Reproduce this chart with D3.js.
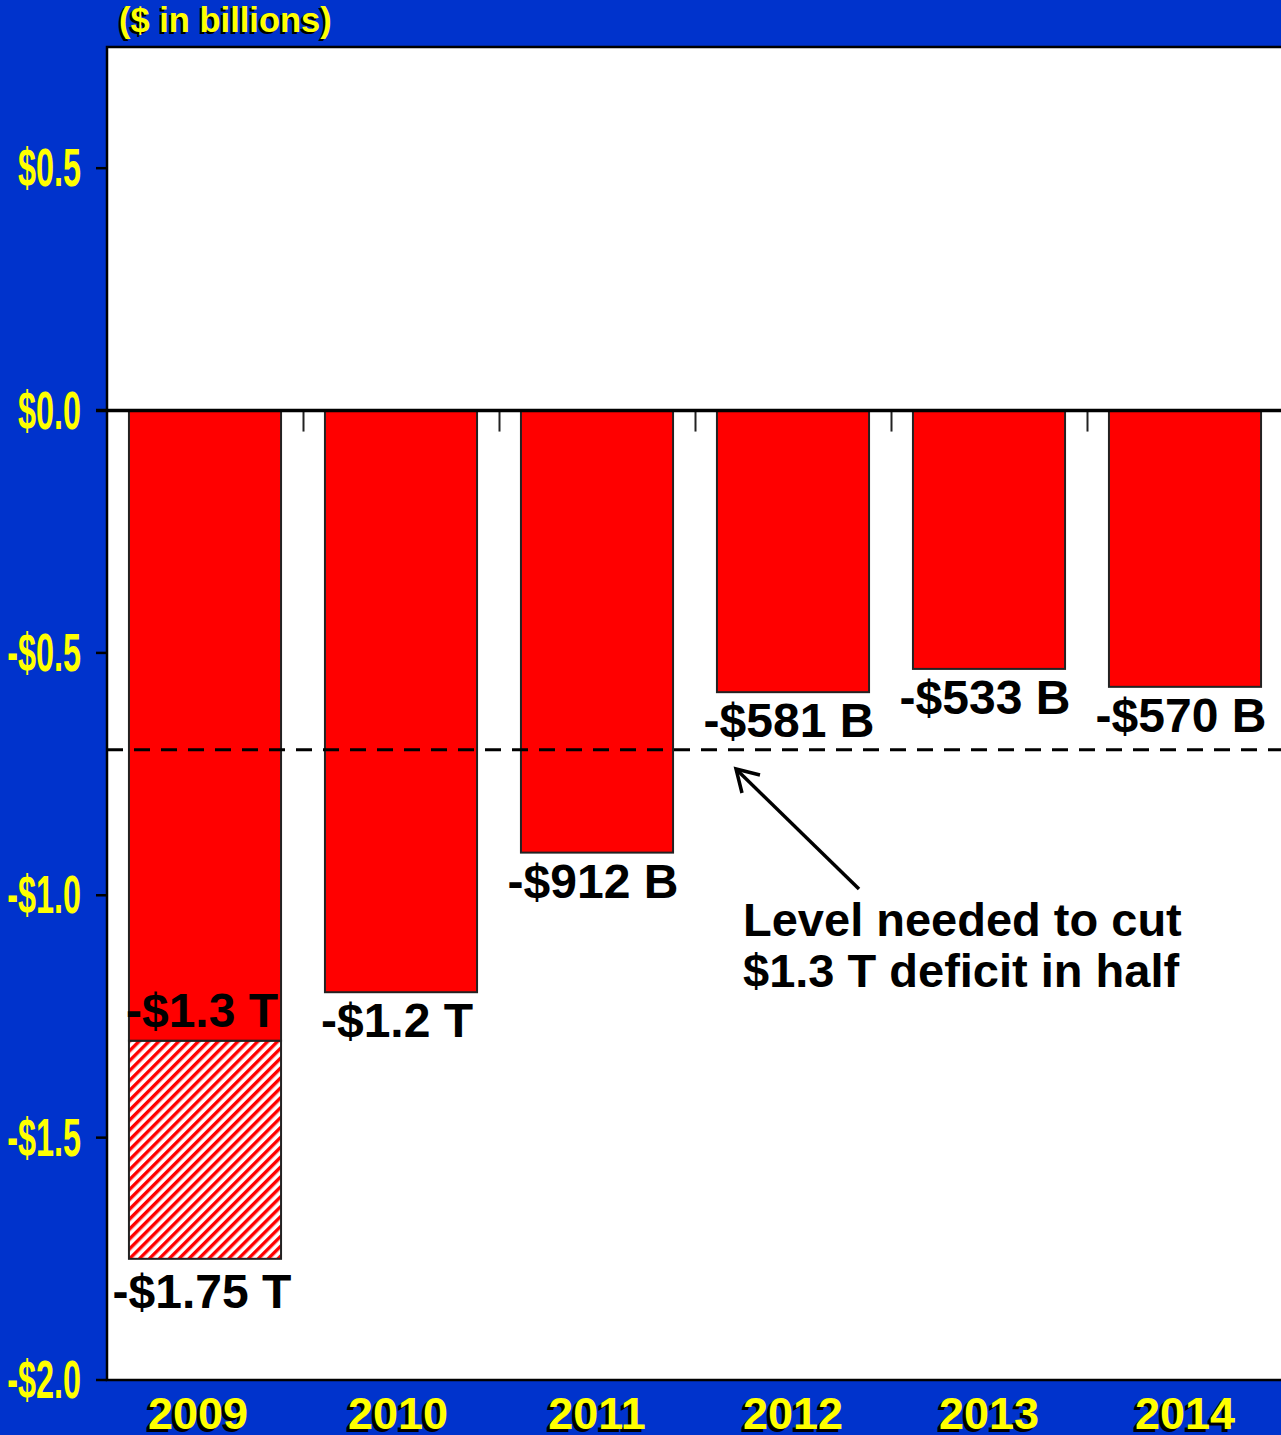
<!DOCTYPE html>
<html><head><meta charset="utf-8">
<script src="https://cdn.jsdelivr.net/npm/d3@7"></script>
<style>body{margin:0;background:#0033CC;overflow:hidden}svg{display:block}</style>
</head><body><svg id="c" width="1281" height="1435"></svg>
<script>
const years = ["2009","2010","2011","2012","2013","2014"];
const deficits = [-1.3, -1.2, -0.912, -0.581, -0.533, -0.570];
const deficitLabels = ["-$1.3 T","-$1.2 T","-$912 B","-$581 B","-$533 B","-$570 B"];
const projected2009 = -1.75;
const projected2009Label = "-$1.75 T";
const targetLevel = -0.7;
const yTicks = [0.5, 0.0, -0.5, -1.0, -1.5, -2.0];
const yTickLabels = ["$0.5","$0.0","-$0.5","-$1.0","-$1.5","-$2.0"];
const title = "($ in billions)";
const noteLines = ["Level needed to cut","$1.3 T deficit in half"];

const W = 1281, H = 1435;
const m = {l:107, t:47, r:0, b:55};
const svg = d3.select("#c");
svg.append("rect").attr("width",W).attr("height",H).attr("fill","#0033CC");

const defs = svg.append("defs");
const pat = defs.append("pattern").attr("id","hatch").attr("patternUnits","userSpaceOnUse")
  .attr("width",7).attr("height",10).attr("patternTransform","rotate(45)");
pat.append("rect").attr("width",7).attr("height",10).attr("fill","#fff");
pat.append("rect").attr("width",3.4).attr("height",10).attr("fill","#ff0000");

const x = d3.scaleBand().domain(years).range([m.l, m.l + 6*196]).paddingInner(0.224).paddingOuter(0.112);
const y = d3.scaleLinear().domain([-2, 0.75]).range([1380, m.t]);

// plot area
svg.append("rect").attr("x",m.l).attr("y",m.t).attr("width",W-m.l+2).attr("height",1380-m.t)
  .attr("fill","#fff").attr("stroke","#000").attr("stroke-width",2.5);

// hatched projection
svg.append("rect").attr("x",x("2009")).attr("width",x.bandwidth())
  .attr("y",y(deficits[0])).attr("height",y(projected2009)-y(deficits[0]))
  .attr("fill","url(#hatch)").attr("stroke","#222").attr("stroke-width",2);

// bars
svg.selectAll("rect.bar").data(years).join("rect").attr("class","bar")
  .attr("x",d=>x(d)).attr("width",x.bandwidth())
  .attr("y",y(0)).attr("height",(d,i)=>y(deficits[i])-y(0))
  .attr("fill","#ff0000").attr("stroke","#222").attr("stroke-width",2);

// x ticks at band boundaries on zero line
const step = x.step();
svg.selectAll("line.xt").data(years.slice(1)).join("line").attr("class","xt")
  .attr("x1",d=>x(d)-step*0.112+0.5).attr("x2",d=>x(d)-step*0.112+0.5)
  .attr("y1",y(0)).attr("y2",y(0)+21).attr("stroke","#222").attr("stroke-width",2);

// zero line
svg.append("line").attr("x1",96).attr("x2",W).attr("y1",y(0)).attr("y2",y(0))
  .attr("stroke","#000").attr("stroke-width",3.5);

// y axis ticks
svg.selectAll("line.yt").data(yTicks).join("line").attr("class","yt")
  .attr("x1",96).attr("x2",m.l).attr("y1",d=>y(d)).attr("y2",d=>y(d))
  .attr("stroke","#000").attr("stroke-width",2.5);
svg.selectAll("text.yl").data(yTicks).join("text").attr("class","yl")
  .attr("transform",d=>`translate(81,${y(d)+18}) scale(0.6,1)`)
  .attr("text-anchor","end").attr("font-family","Liberation Sans, Arial, sans-serif")
  .attr("font-weight","bold").attr("font-size",54).attr("fill","#ffff00")
  .text((d,i)=>yTickLabels[i]);

// dashed target line
svg.append("line").attr("x1",m.l).attr("x2",W).attr("y1",y(targetLevel)).attr("y2",y(targetLevel))
  .attr("stroke","#000").attr("stroke-width",3).attr("stroke-dasharray","16,11");

// data labels
const font = "Liberation Sans, Arial, sans-serif";
const lbl = (tx,ty,t)=>svg.append("text").attr("x",tx).attr("y",ty).attr("text-anchor","middle")
  .attr("font-family",font).attr("font-weight","bold").attr("font-size",48).attr("fill","#000").text(t);
years.forEach((yr,i)=>{
  const cx = x(yr)+x.bandwidth()/2 - 4;
  if(i===0) lbl(cx+1, y(deficits[i])-14, deficitLabels[i]);
  else lbl(cx, y(deficits[i])+45, deficitLabels[i]);
});
lbl(x("2009")+x.bandwidth()/2-3, y(projected2009)+49, projected2009Label);

// annotation
noteLines.forEach((t,i)=>svg.append("text").attr("x",743).attr("y",936+i*51)
  .attr("font-family",font).attr("font-weight","bold").attr("font-size",47).attr("fill","#000").text(t));
svg.append("line").attr("x1",859).attr("y1",889).attr("x2",738).attr("y2",771)
  .attr("stroke","#000").attr("stroke-width",3.5);
svg.append("path").attr("d","M742,793 L736,769 L760,775").attr("fill","none")
  .attr("stroke","#000").attr("stroke-width",3.5).attr("stroke-linejoin","miter");

// title and year labels with shadow
function shadowText(tx,ty,t,size,anchor,off){
  [["#000",-off,off],["#ffff00",0,0]].forEach(([c,dx,dy])=>
    svg.append("text").attr("x",tx+dx).attr("y",ty+dy).attr("text-anchor",anchor)
      .attr("font-family",font).attr("font-weight","bold").attr("font-size",size).attr("fill",c).text(t));
}
shadowText(119,32,title,34.5,"start",2);
years.forEach((yr,i)=>shadowText(x(yr)+x.bandwidth()/2-(i===0?7:i===1?3:0),1429,yr,45,"middle",3));
</script></body></html>
